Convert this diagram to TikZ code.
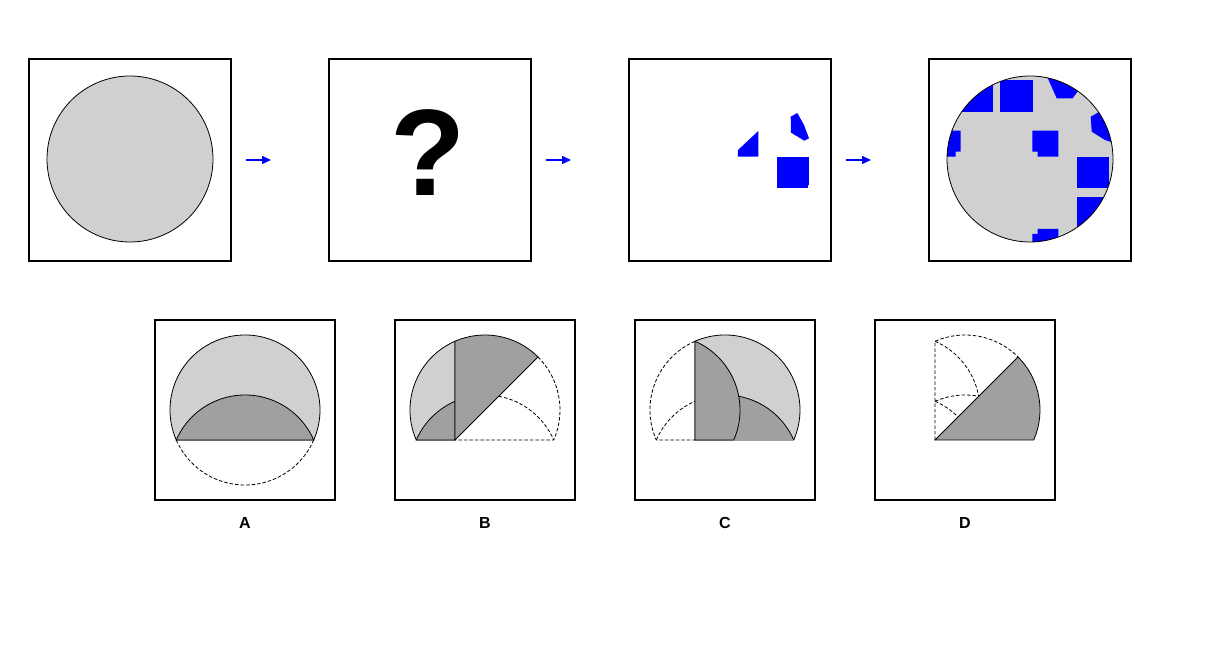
\documentclass[tikz,border=0pt]{standalone}
\usepackage{fontspec}
\setmainfont{Liberation Sans}
\usetikzlibrary{arrows.meta,positioning}
\definecolor{paper}{RGB}{208,208,208}
\definecolor{fold}{RGB}{160,160,160}

\begin{document}
\begin{tikzpicture}[x=1pt,y=1pt,
  frame/.style={draw,line width=2pt,minimum size=202pt,inner sep=0pt},
  choice/.style={draw,line width=2pt,minimum size=180pt,inner sep=0pt},
  tag/.style={font=\bfseries\fontsize{16}{16}\selectfont,inner sep=0pt},
  go/.style={blue,line width=1.5pt,-{Triangle[length=9pt,width=8pt]}},
  edge/.style={line width=0.8pt},
  hidden/.style={line width=0.8pt,dash pattern=on 3.5pt off 2pt}]
\useasboundingbox (0,0) rectangle (1210,650);

% question row
\node[frame] (s1) at (130,490) {};
\node[frame] (s2) at (430,490) {};
\node[frame] (s3) at (730,490) {};
\node[frame] (s4) at (1030,490) {};
\draw[go] ([xshift=14pt]s1.east) -- ++(25,0);
\draw[go] ([xshift=14pt]s2.east) -- ++(25,0);
\draw[go] ([xshift=14pt]s3.east) -- ++(25,0);

\draw[edge,fill=paper] (130,491) circle (83pt);
\node[font=\bfseries\fontsize{123}{123}\selectfont,inner sep=0pt] (ask) at (428,497) {?};

% holes, in pixel coordinates
\begin{scope}[shift={(0,650)},yscale=-1]
  \clip (730,159) circle (83pt);
  \fill[blue] (738,150) -- (758.3,131) -- (758.3,156.7) -- (737.7,156.7) -- cycle;
  \fill[blue] (790.7,116.7) -- (797.3,113) -- (804,125) -- (809,138.3) -- (804.3,140.7) -- (791,132.7) -- cycle;
  \fill[blue] (777,156.7) rectangle (809,188.3);
\end{scope}

\fill[paper] (1030,491) circle (83pt);
\begin{scope}[shift={(0,650)},yscale=-1]
  \clip (1030,159) circle (83pt);
  \fill[blue] (940,70) rectangle (992.7,112.3);
  \fill[blue] (1000.3,80) rectangle (1032.7,112.3);
  \fill[blue] (1045.8,73.7) -- (1056.7,98.3) -- (1072.7,98.3) -- (1076.7,92.7) -- (1085,81) -- (1070,65) -- cycle;
  \fill[blue] (1090.7,116.7) -- (1096.7,113.3) -- (1102,110) -- (1120,120) -- (1120,145) -- (1105,140) -- (1091.7,131.7) -- cycle;
  \fill[blue] (960.7,130.7) -- (960.7,151.7) -- (955.7,151.7) -- (955.7,156.7) -- (940,156.7) -- (940,130.7) -- cycle;
  \fill[blue] (1032.3,130.7) -- (1058.3,130.7) -- (1058.3,156.7) -- (1037.7,156.7) -- (1037.7,151.7) -- (1032.3,151.7) -- cycle;
  \fill[blue] (1077,156.7) rectangle (1109,188.3);
  \fill[blue] (1077,196.7) rectangle (1120,250);
  \fill[blue] (1032.3,250) -- (1032.3,234) -- (1037.7,234) -- (1037.7,229) -- (1058.3,229) -- (1058.3,250) -- cycle;
\end{scope}
\draw[edge] (1030,491) circle (83pt);

% answer row
\node[choice] (cA) at (245,240) {};
\node[choice] (cB) at (485,240) {};
\node[choice] (cC) at (725,240) {};
\node[choice] (cD) at (965,240) {};
\node[tag,below=16.5pt of cA] (tA) {A};
\node[tag,below=16.5pt of cB] (tB) {B};
\node[tag,below=16.5pt of cC] (tC) {C};
\node[tag,below=16.5pt of cD] (tD) {D};

\begin{scope}[shift={(cA.center)}]
  \filldraw[edge,fill=paper] (-23.58:75) arc[start angle=-23.58,end angle=203.58,radius=75pt] -- cycle;
  \draw[hidden] (203.58:75) arc[start angle=203.58,end angle=336.42,radius=75pt];
  \filldraw[edge,fill=fold] (-68.74,-30) arc[start angle=156.42,end angle=23.58,radius=75pt] -- cycle;
\end{scope}

\begin{scope}[shift={(cB.center)}]
  \filldraw[edge,fill=paper] (-30,-30) -- (-30,68.74) arc[start angle=113.58,end angle=203.58,radius=75pt] -- cycle;
  \filldraw[edge,fill=fold] (-68.74,-30) arc[start angle=156.42,end angle=113.58,radius=75pt] -- (-30,-30) -- cycle;
  \filldraw[edge,fill=fold] (-30,-30) -- (-30,68.74) arc[start angle=113.58,end angle=45,radius=75pt] -- cycle;
  \draw[hidden] (45:75) arc[start angle=45,end angle=-23.58,radius=75pt] -- (-30,-30);
  \draw[hidden] (13.73,13.73) arc[start angle=79.45,end angle=23.58,radius=75pt];
\end{scope}

\begin{scope}[shift={(cC.center)}]
  \draw[hidden] (-30,68.74) arc[start angle=113.58,end angle=203.58,radius=75pt] -- (-30,-30);
  \draw[hidden] (-68.74,-30) arc[start angle=156.42,end angle=113.58,radius=75pt];
  \filldraw[edge,fill=paper] (-30,-30) -- (-30,68.74) arc[start angle=113.58,end angle=-23.58,radius=75pt] -- cycle;
  \fill[fold] (-30,-30) -- (-30,8.74) arc[start angle=113.58,end angle=23.58,radius=75pt] -- cycle;
  \draw[edge] (13.73,13.73) arc[start angle=79.45,end angle=23.58,radius=75pt];
  \filldraw[edge,fill=fold] (-30,-30) -- (-30,68.74) arc[start angle=66.42,end angle=-23.58,radius=75pt] -- cycle;
\end{scope}

\begin{scope}[shift={(cD.center)}]
  \draw[hidden] (-30,-30) -- (-30,68.74) arc[start angle=113.58,end angle=45,radius=75pt];
  \draw[hidden] (-30,68.74) arc[start angle=66.42,end angle=10.55,radius=75pt];
  \draw[hidden] (-30,8.74) arc[start angle=113.58,end angle=79.45,radius=75pt];
  \draw[hidden] (-30,8.74) arc[start angle=66.42,end angle=45,radius=75pt];
  \filldraw[edge,fill=fold] (-30,-30) -- (45:75) arc[start angle=45,end angle=-23.58,radius=75pt] -- cycle;
\end{scope}
\end{tikzpicture}
\end{document}
